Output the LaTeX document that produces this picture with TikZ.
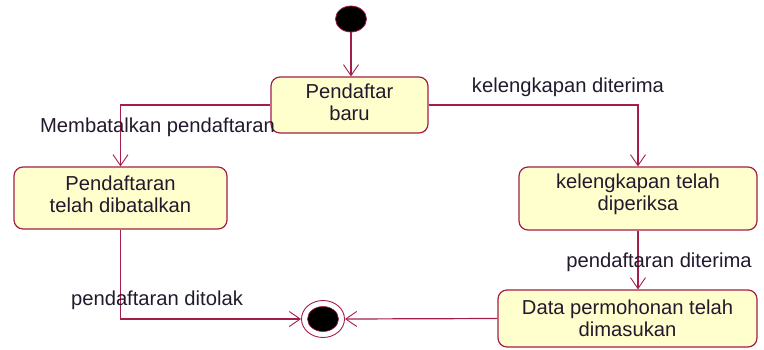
\documentclass[tikz,border=0pt]{standalone}
\usepackage{fontspec}
\setmainfont{Liberation Sans}
\usetikzlibrary{shapes.geometric,arrows.meta}
\definecolor{umlline}{RGB}{165,30,72}
\definecolor{umlfill}{RGB}{255,255,206}
\definecolor{umltext}{RGB}{35,25,45}
\tikzset{
  statebox/.style={draw=umlline, fill=umlfill, rounded corners=9pt, line width=1.2pt,
    align=center, text=umltext, font=\fontsize{20.2}{22}\selectfont, inner sep=0pt},
  trans/.style={draw=umlline, line width=1.2pt, -{Straight Barb[length=11pt,width=15pt,line width=0.9pt]}},
  lbl/.style={text=umltext, font=\fontsize{20.2}{22}\selectfont, inner sep=0pt},
}
\begin{document}
\begin{tikzpicture}[x=1pt,y=-1pt]
\useasboundingbox (0,0) rectangle (764,349);
% initial
\node[ellipse, draw=umlline, fill=black, line width=0.8pt, minimum width=31pt, minimum height=26pt, inner sep=0pt] (start) at (351,19) {};
% states
\node[statebox, minimum width=157pt, minimum height=56pt, text depth=6pt] (baru) at (349.5,105) {Pendaftar\\baru};
\node[statebox, minimum width=213pt, minimum height=62pt, text depth=8pt] (batal) at (120.5,198) {Pendaftaran\\telah dibatalkan};
\node[statebox, minimum width=238pt, minimum height=63pt, text depth=12pt] (periksa) at (638,198.5) {kelengkapan telah\\diperiksa};
\node[statebox, minimum width=259pt, minimum height=57pt] (data) at (627.5,318.5) {Data permohonan telah\\dimasukan};
% final
\node[ellipse, draw=umlline, fill=white, line width=0.9pt, minimum width=43pt, minimum height=37pt, inner sep=0pt] (end) at (323,319) {};
\node[ellipse, draw=umlline, fill=black, line width=0.6pt, minimum width=31pt, minimum height=25pt, inner sep=0pt] (endin) at (323,319) {};
% transitions
\draw[trans] (start.south) -- (start.south |- baru.north);
\draw[trans] (baru.west) -| (batal.north);
\draw[trans] (baru.east) -| (periksa.north);
\draw[trans] (periksa.south) -- (periksa.south |- data.north);
\draw[trans] (batal.south) |- (end.west);
\draw[trans] (data.west) -- (end.east);
% labels
\node[lbl] (l1) at (157.5,127) {Membatalkan pendaftaran};
\node[lbl] (l2) at (568,87) {kelengkapan diterima};
\node[lbl] (l3) at (659,262) {pendaftaran diterima};
\node[lbl] (l4) at (157,300) {pendaftaran ditolak};
\end{tikzpicture}
\end{document}
